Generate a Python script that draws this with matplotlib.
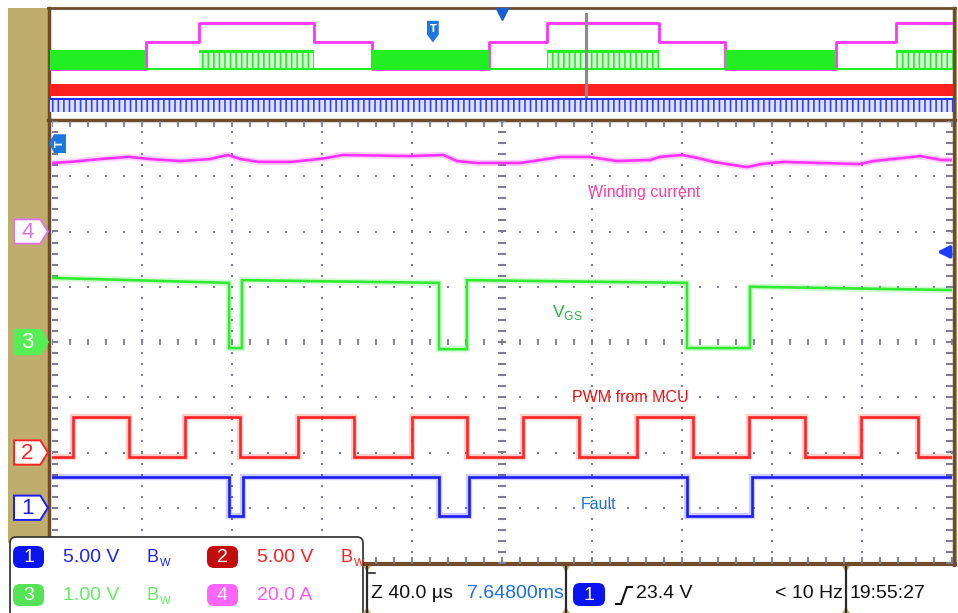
import numpy as np
import matplotlib
matplotlib.use("Agg")
import matplotlib.pyplot as plt
from matplotlib.patches import Rectangle, Polygon, FancyBboxPatch
from matplotlib.transforms import blended_transform_factory
from matplotlib import font_manager

# ---- scope settings (main window 40 us/div, 10 x 8 divisions) ----
ch_names = ["1", "2", "3", "4"]
ch_offset_div = [-3.0, -2.0, 0.0, 2.0]        # marker positions on the left strip
ch_scale = [5.0, 5.0, 1.0, 20.0]              # V/div, V/div, V/div, A/div
ch_color = ["#1c1cf5", "#ff2323", "#33ea33", "#ff33ff"]

# ---- channel 4: winding current (A) ----
current_t = [-200, -192, -179, -166, -156, -143, -130, -122, -116, -108, -94, -85, -78,
             -71, -41, -26, -20, -11, 8, 14, 26, 39, 51, 66, 70, 80, 87, 94, 100, 109,
             115, 125, 141, 159, 165, 186, 195, 200]
current_a = [24.8, 25.2, 26.2, 27.0, 26.2, 25.5, 26.2, 27.7, 26.2, 25.2, 25.2, 25.9, 26.6,
             27.7, 27.3, 27.7, 25.5, 24.8, 24.8, 25.5, 27.0, 27.0, 25.5, 25.9, 27.0, 27.7,
             26.6, 25.2, 24.4, 23.3, 24.4, 25.2, 24.8, 24.4, 25.5, 27.3, 25.9, 25.9]

# ---- channel 3: VGS (V) ----
vgs_t = [-200, -121.3, -121.3, -115.6, -115.6, -28.0, -28.0, -15.6, -15.6,
         82.2, 82.2, 110.2, 110.2, 200]
vgs_v = [1.16, 1.07, -0.11, -0.11, 1.12, 1.07, -0.13, -0.13, 1.12,
         1.07, -0.11, -0.11, 1.00, 0.94]

# ---- channel 2: PWM from MCU (V) ----
pwm_rise = [-190.7, -140.9, -90.7, -40.0, 9.3, 60.0, 109.8, 159.6]
pwm_fall = [-165.8, -116.4, -65.8, -15.6, 34.2, 84.9, 134.7, 184.9]
pwm_low, pwm_high = -0.45, 3.17

# ---- channel 1: fault (V) ----
fault_fall = [-121.3, -28.0, 82.2]
fault_rise = [-115.1, -14.7, 111.1]
fault_high, fault_low = 2.80, -0.72

# ---- overview (zoom) window, in record divisions ----
ov_bounds = [0, 1.06, 1.65, 2.92, 3.57, 4.86, 5.50, 6.74, 7.48, 8.70, 9.37, 10.0]
ov_state = ["idle", "mid", "high", "mid", "idle", "mid", "high", "mid", "idle", "mid", "high"]
ov_pink_level = {"idle": 3.64, "mid": 5.57, "high": 7.0}
ov_zoom_pos = 5.94
ov_trig_pos = 4.24

# ---- readouts ----
readout_rows = [[("1", "5.00 V"), ("2", "5.00 V")], [("3", "1.00 V"), ("4", "20.0 A")]]
badge_fill = {"1": "#0a14f0", "2": "#c30d0d", "3": "#55e255", "4": "#ff66ff"}
readout_color = {"1": "#2222ff", "2": "#ff2020", "3": "#66ee66", "4": "#ff55ff"}
timebase = "Z 40.0 \u00b5s"
delay = "7.64800ms"
trig_level = "23.4 V"
trig_freq = "< 10 Hz"
clock = "19:55:27"

TAN = "#bfad6d"
BROWN = "#6f4c2c"
GRID = "#7c7c92"

# narrow font for the scope readouts if one is installed
names = {f.name for f in font_manager.fontManager.ttflist}
if "Liberation Sans Narrow" in names:
    CONDENSED = dict(family="Liberation Sans Narrow")
    RS = 15.5
elif "DejaVu Sans Condensed" in names:
    CONDENSED = dict(family="DejaVu Sans Condensed")
    RS = 14
else:
    CONDENSED = dict(family="Liberation Sans")
    RS = 14


def step_wave(rise, fall, lo, hi, start_hi, t0=-200, t1=200):
    edges = sorted([(t, hi) for t in rise] + [(t, lo) for t in fall])
    level = hi if start_hi else lo
    ts, vs = [t0], [level]
    for t, new in edges:
        ts += [t, t]
        vs += [level, new]
        level = new
    ts.append(t1)
    vs.append(level)
    return np.array(ts), np.array(vs)


W, H = 958, 613
fig = plt.figure(figsize=(W / 100, H / 100), dpi=100)
fig.patch.set_facecolor("white")

# background decorations in pixel coordinates
deco = fig.add_axes([0, 0, 1, 1], zorder=0)
deco.set_xlim(0, W)
deco.set_ylim(H, 0)
deco.axis("off")
deco.add_patch(Rectangle((8, 8), 41, 535, fc=TAN, ec="none"))
deco.plot([48, 955], [8, 8], color=BROWN, lw=2)
deco.plot([49, 49], [8, 565], color=BROWN, lw=2.5)
deco.plot([954, 954], [8, 565], color=BROWN, lw=2.5)
deco.add_patch(Rectangle((955, 8), 2, 557, fc=TAN, ec="none"))
deco.plot([48, 955], [120, 120], color=BROWN, lw=2.5)
deco.plot([48, 955], [564, 564], color=BROWN, lw=3)

# ---- overview axes ----
ov = fig.add_axes([50 / W, (H - 119) / H, 903 / W, 110 / H], zorder=2)
ov.set_xlim(0, 10)
ov.set_ylim(0, 8)
ov.axis("off")
plt.rcParams["hatch.linewidth"] = 1.2
# pink envelope
pts_x, pts_y = [], []
for a, b, s in zip(ov_bounds[:-1], ov_bounds[1:], ov_state):
    pts_x += [a, b]
    pts_y += [ov_pink_level[s]] * 2
ov.plot(pts_x, pts_y, color="#ff33ff", lw=2, zorder=2)
for a, b, s in zip(ov_bounds[:-1], ov_bounds[1:], ov_state):
    if s == "idle":
        ov.fill_between([a, b], 3.57, 5.0, color="#22ee22", lw=0, zorder=3)
    elif s == "high":
        ov.fill_between([a, b], 3.57, 5.0, facecolor="#d8fbd8", edgecolor="#22ee22",
                        hatch="|||", lw=0, zorder=3)
        ov.fill_between([a, b], 4.8, 5.0, color="#22ee22", lw=0, zorder=3)
        ov.plot([a, b], [3.64, 3.64], color="#22ee22", lw=1.5, zorder=3)
    else:
        ov.plot([a, b], [3.64, 3.64], color="#22ee22", lw=1.5, zorder=3)
ov.fill_between([0, 10], 1.64, 2.57, color="#ff2020", lw=0, zorder=3)
ov.plot([0, 10], [1.45, 1.45], color="#2030ff", lw=1.5, zorder=3)
ov.fill_between([0, 10], 0.5, 1.4, facecolor="#dfe2ff", edgecolor="#3040ff",
                hatch="|||", lw=0, zorder=3)
ov.plot([ov_zoom_pos, ov_zoom_pos], [1.64, 7.64], color="#8a8a8a", lw=2.2, zorder=4)
ov.add_patch(Polygon([(ov_trig_pos - 0.065, 7.14), (ov_trig_pos + 0.065, 7.14),
                      (ov_trig_pos + 0.065, 6.14), (ov_trig_pos, 5.57),
                      (ov_trig_pos - 0.065, 6.14)], closed=True, fc="#1a78e0", ec="none",
                     zorder=5))
ov.text(ov_trig_pos, 6.55, "T", color="white", fontsize=7, fontweight="bold",
        ha="center", va="center", zorder=6)
ov.plot([5.0], [7.62], marker="v", ms=9, color="#1560d0", clip_on=False, zorder=6)

# ---- main graticule ----
ax = fig.add_axes([52 / W, (H - 563) / H, 900 / W, 442 / H], zorder=2)
ax.set_xlim(-200, 200)
ax.set_ylim(-4, 4)
ax.axis("off")

minor_x = np.arange(-200, 200.1, 8)
minor_y = np.arange(-4, 4.01, 0.2)
for gx in np.arange(-160, 161, 40):
    if gx != 0:
        ax.plot(np.full_like(minor_y, gx), minor_y, ls="none", marker="s", ms=1.6,
                mew=0, color=GRID)
for gy in range(-3, 4):
    if gy != 0:
        ax.plot(minor_x, np.full_like(minor_x, gy), ls="none", marker="s", ms=1.6,
                mew=0, color=GRID)
ax.plot(minor_x, np.zeros_like(minor_x), ls="none", marker="|", ms=5, mew=1.3, color=GRID)
ax.plot(np.zeros_like(minor_y), minor_y, ls="none", marker="_", ms=5.5, mew=1.5, color=GRID)
ax.plot(minor_x, np.full_like(minor_x, 4), ls="none", marker="|", ms=9, mew=1.3, color=GRID)
ax.plot(minor_x, np.full_like(minor_x, -4), ls="none", marker="|", ms=9, mew=1.3, color=GRID)
ax.plot(np.full_like(minor_y, -200), minor_y, ls="none", marker="_", ms=9, mew=1.5, color=GRID)
ax.plot(np.full_like(minor_y, 200), minor_y, ls="none", marker="_", ms=9, mew=1.5, color=GRID)


def draw_trace(t, v, idx):
    y = ch_offset_div[idx] + np.asarray(v) / ch_scale[idx]
    ax.plot(t, y, color=ch_color[idx], lw=4.5, alpha=0.22, solid_joinstyle="miter", zorder=4)
    ax.plot(t, y, color=ch_color[idx], lw=1.9, solid_joinstyle="miter", zorder=5)


draw_trace(current_t, current_a, 3)
draw_trace(vgs_t, vgs_v, 2)
t2, v2 = step_wave(pwm_rise, pwm_fall, pwm_low, pwm_high, start_hi=False)
draw_trace(t2, v2, 1)
t1, v1 = step_wave(fault_rise, fault_fall, fault_low, fault_high, start_hi=True)
draw_trace(t1, v1, 0)

# labels
ax.text(38.2, 2.71, "Winding current", color="#ff3d9e", fontsize=11.5,
        family="Liberation Sans", va="center", zorder=6)
ax.text(22.2, 0.54, r"V$_\mathregular{GS}$", color="#27b34a", fontsize=12.5,
        family="Liberation Sans", va="center", zorder=6)
ax.text(31.1, -1.0, "PWM from MCU", color="#ff0a0a", fontsize=11.5,
        family="Liberation Sans", va="center", zorder=6)
ax.text(35.1, -2.95, "Fault", color="#1f75d0", fontsize=11.5,
        family="Liberation Sans", va="center", zorder=6)

# channel markers on the left strip
bt = blended_transform_factory(ax.transAxes, ax.transData)
marker_style = {"1": ("white", "#1c1cf5", "#1c1cf5"), "2": ("white", "#ff2323", "#ff2323"),
                "3": ("#55ee55", "#55ee55", "white"), "4": ("white", "#dd77dd", "#dd77dd")}
for name, off in zip(ch_names, ch_offset_div):
    fc, ec, tc = marker_style[name]
    ax.add_patch(Polygon([(-0.0422, off + 0.22), (-0.013, off + 0.22), (-0.0045, off),
                          (-0.013, off - 0.22), (-0.0422, off - 0.22)], closed=True,
                         transform=bt, fc=fc, ec=ec, lw=1.4, clip_on=False, zorder=6))
    ax.text(-0.0275, off - 0.01, name, transform=bt, color=tc, fontsize=RS + 2, ha="center",
            va="center", clip_on=False, zorder=7, **CONDENSED)

# trigger position (off screen left) and trigger level markers
ax.add_patch(Polygon([(-201.3, 3.60), (-199.1, 3.76), (-193.8, 3.76), (-193.8, 3.42),
                      (-199.1, 3.42)], closed=True, fc="#1a78e0", ec="none",
                     clip_on=False, zorder=6))
ax.text(-196.6, 3.59, "T", color="white", fontsize=7, fontweight="bold", rotation=90,
        ha="center", va="center", zorder=7)
ax.annotate("", xy=(192.0, 1.63), xytext=(200, 1.63),
            arrowprops=dict(arrowstyle="-|>", color="#1a3cff", lw=2.5, mutation_scale=18),
            zorder=7)

# ---- readout overlay ----
top = fig.add_axes([0, 0, 1, 1], zorder=5)
top.set_xlim(0, W)
top.set_ylim(H, 0)
top.axis("off")

top.add_patch(FancyBboxPatch((10, 537), 353, 90, boxstyle="round,pad=0,rounding_size=6",
                             fc="white", ec="#3a3a3a", lw=1.3))
row_y = [557, 595]
col_x = [13, 207]
for r, row in enumerate(readout_rows):
    for c, (name, val) in enumerate(row):
        x0 = col_x[c]
        top.add_patch(FancyBboxPatch((x0, row_y[r] - 11), 31, 22,
                                     boxstyle="round,pad=0,rounding_size=7",
                                     fc=badge_fill[name], ec="none"))
        top.text(x0 + 15.5, row_y[r] + 1, name, color="white", fontsize=RS,
                 ha="center", va="center", **CONDENSED)
        top.text(x0 + 50, row_y[r] + 1, val, color=readout_color[name], fontsize=RS,
                 va="center", **CONDENSED)
        if name != "4":
            top.text(x0 + 134, row_y[r] + 1, "B", color=readout_color[name],
                     fontsize=RS - 1, va="center", **CONDENSED)
            top.text(x0 + 147, row_y[r] + 6, "W", color=readout_color[name],
                     fontsize=RS - 6, va="center", **CONDENSED)

# bottom status strip
top.add_patch(Rectangle((364, 567), 594, 46, fc="white", ec="none"))
for sx in [367, 566, 846]:
    top.plot([sx, sx], [567, 613], color="#2a2a2a", lw=1.6)
    top.add_patch(Polygon([(sx - 4, 566), (sx + 4, 566), (sx, 572)], closed=True, fc=TAN,
                          ec="none"))
    top.add_patch(Polygon([(sx - 4, 613), (sx + 4, 613), (sx, 607)], closed=True, fc=TAN,
                          ec="none"))
top.plot([367, 375], [573, 573], color="#2a2a2a", lw=1.2)
top.text(371, 594, timebase, color="#111111", fontsize=RS, va="center", **CONDENSED)
top.text(564, 594, delay, color="#1a6ee6", fontsize=RS, va="center", ha="right", **CONDENSED)
top.add_patch(FancyBboxPatch((573, 583), 32, 23, boxstyle="round,pad=0,rounding_size=7",
                             fc="#0a14f0", ec="none"))
top.text(589, 595, "1", color="white", fontsize=RS, ha="center", va="center", **CONDENSED)
top.plot([616, 621, 627, 632], [604, 604, 587, 587], color="#111111", lw=1.5)
top.text(636, 594, trig_level, color="#111111", fontsize=RS, va="center", **CONDENSED)
top.text(843, 594, trig_freq, color="#111111", fontsize=RS, va="center", ha="right", **CONDENSED)
top.text(850, 594, clock, color="#111111", fontsize=RS, va="center", **CONDENSED)

fig.savefig("out.png", dpi=100)
